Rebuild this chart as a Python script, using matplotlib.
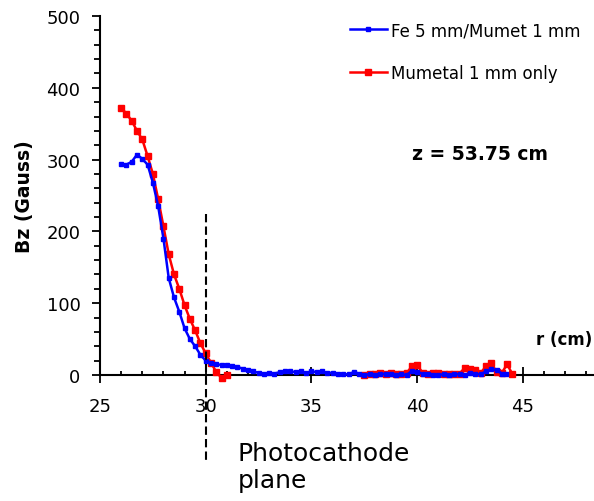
import matplotlib
matplotlib.use("Agg")
import matplotlib.pyplot as plt
from matplotlib.ticker import MultipleLocator

NaN = float('nan')

# ---------------- data ----------------
r_fe = [26.0, 26.25, 26.5, 26.75, 27.0, 27.25, 27.5, 27.75, 28.0, 28.25, 28.5, 28.75,
        29.0, 29.25, 29.5, 29.75, 30.0, 30.25, 30.5, 30.75, 31.0, 31.25, 31.5, 31.75,
        32.0, 32.25, 32.5, 32.75, 33.0, 33.25, 33.5, 33.75, 34.0, 34.25, 34.5, 34.75,
        35.0, 35.25, 35.5, 35.75, 36.0, 36.25, 36.5, 36.75, 37.0, 37.25, 37.5, 37.75,
        38.0, 38.25, 38.5, 38.75, 39.0, 39.25, 39.5, 39.75, 40.0, 40.25, 40.5, 40.75,
        41.0, 41.25, 41.5, 41.75, 42.0, 42.25, 42.5, 42.75, 43.0, 43.25, 43.5, 43.75,
        44.0, 44.2]
bz_fe = [294, 293, 297, 307, 301, 293, 268, 235, 190, 135, 108, 88,
         65, 50, 40, 28, 20, 17, 15, 14, 14, 12, 11, 9,
         7, 5, 3, 2, 3, 2, 4, 5, 5, 4, 5, 3,
         5, 4, 5, 3, 3, 2, 1, 1, 4, 2, 0, 1,
         0, 2, 1, 2, 0, 1, 0, 6, 4, 2, 2, 0,
         0, 1, 0, 1, 1, 0, 3, 1, 1, 5, 8, 7,
         2, 2]

r_mu = [26.0, 26.25, 26.5, 26.75, 27.0, 27.25, 27.5, 27.75, 28.0, 28.25, 28.5, 28.75,
        29.0, 29.25, 29.5, 29.75, 30.0, 30.25, 30.5, 30.75, 31.0, 31.25, 31.5, 31.75,
        32.0, 32.25, 32.5, 32.75, 33.0, 33.25, 33.5, 33.75, 34.0, 34.25, 34.5, 34.75,
        35.0, 35.25, 35.5, 35.75, 36.0, 36.25, 36.5, 36.75, 37.0, 37.25, 37.5, 37.75,
        38.0, 38.25, 38.5, 38.75, 39.0, 39.25, 39.5, 39.75, 40.0, 40.25, 40.5, 40.75,
        41.0, 41.25, 41.5, 41.75, 42.0, 42.25, 42.5, 42.75, 43.0, 43.25, 43.5, 43.75,
        44.0, 44.25, 44.5]
bz_mu = [372, 364, 354, 340, 328, 305, 280, 245, 207, 168, 140, 120,
         97, 78, 62, 44, 30, 17, 4, -4, 0, NaN, NaN, NaN,
         NaN, NaN, NaN, NaN, NaN, NaN, NaN, NaN, NaN, NaN, NaN, NaN,
         NaN, NaN, NaN, NaN, NaN, NaN, NaN, NaN, NaN, NaN, 0, 1,
         2, 3, 1, 3, 1, 2, 3, 12, 14, 3, 2, 3,
         3, 2, 2, 1, 2, 10, 8, 7, 3, 12, 17, 4,
         3, 15, 1]

label_fe = "Fe 5 mm/Mumet 1 mm"
label_mu = "Mumetal 1 mm only"
xticks = [25, 30, 35, 40, 45]
yticks = [0, 100, 200, 300, 400, 500]

# ---------------- figure ----------------
plt.rcParams['font.family'] = ['DejaVu Sans']
fig = plt.figure(figsize=(5.94, 5.02), dpi=100)
ax = fig.add_axes([100/594, 126/502, 494/594, 359/502])

ax.plot(r_mu, bz_mu, color='#ff0000', lw=1.8, marker='s', ms=4.4, mec='#ff0000',
        label=label_mu, clip_on=False, zorder=3)
ax.plot(r_fe, bz_fe, color='#0000ff', lw=1.8, marker='s', ms=3.4, mec='#0000ff',
        label=label_fe, clip_on=False, zorder=4)

ax.set_xlim(25, 25 + 494/21.15)
ax.set_ylim(0, 500)
ax.set_xticks(xticks)
ax.set_yticks(yticks)
ax.xaxis.set_minor_locator(MultipleLocator(1))
ax.yaxis.set_minor_locator(MultipleLocator(20))

for s in ['top', 'right']:
    ax.spines[s].set_visible(False)
for s in ['left', 'bottom']:
    ax.spines[s].set_linewidth(1.5)

ax.tick_params(axis='y', which='major', direction='out', length=6, width=1.3,
               labelsize=13, pad=8)
ax.tick_params(axis='y', which='minor', direction='out', length=4, width=1.3)
ax.tick_params(axis='x', which='major', direction='inout', length=11, width=1.3,
               labelsize=13, pad=10)
ax.tick_params(axis='x', which='minor', direction='in', length=3, width=1.3)

ax.set_ylabel("Bz (Gauss)", fontsize=13.5, fontweight='bold', labelpad=9)

# photocathode plane marker
ax.plot([30, 30], [224, -124], color='black', lw=1.5, ls=(0, (4, 2)),
        clip_on=False, zorder=5)
fig.text(238/594, 1 - 442/502, "Photocathode\nplane", fontsize=18,
         ha='left', va='top', linespacing=1.15)

ax.text(39.75, 308, "z = 53.75 cm", fontsize=13.5, fontweight='bold',
        ha='left', va='center')
ax.text(45.6, 50, "r (cm)", fontsize=12, fontweight='bold',
        ha='left', va='center', clip_on=False)

h, l = ax.get_legend_handles_labels()
leg = ax.legend(h[::-1], l[::-1], loc='upper left',
                bbox_to_anchor=(350/594, 1 - 22/502), bbox_transform=fig.transFigure,
                frameon=False, fontsize=12, handlelength=2.2, handletextpad=0.25,
                labelspacing=1.5, borderpad=0, borderaxespad=0, numpoints=1)

fig.savefig("out.png", dpi=100)
